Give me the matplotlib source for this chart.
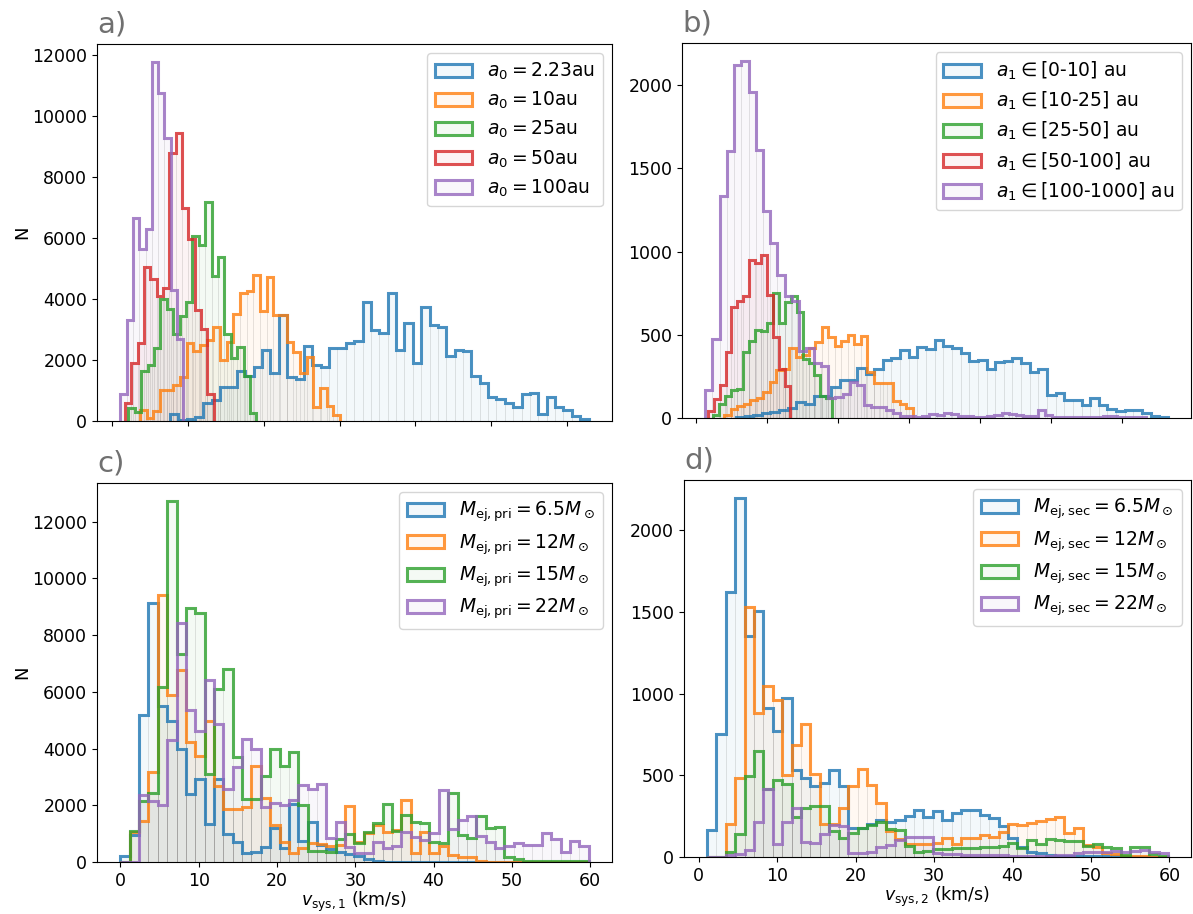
import numpy as np
import matplotlib
matplotlib.use("Agg")
import matplotlib.pyplot as plt
from matplotlib.patches import Patch
from matplotlib.colors import to_rgba

# ---- panel a: v_sys,1 by initial separation a0 ----
a_labels = [r"$a_0 = 2.23$au", r"$a_0 = 10$au", r"$a_0 = 25$au",
            r"$a_0 = 50$au", r"$a_0 = 100$au"]
a_ranges = [(7.59, 62.86), (3.64, 30.05), (2.10, 19.0), (1.67, 13.38), (1.05, 9.35)]
a_blue = [230, 33, 55, 142, 601, 689, 1104, 1104, 1650, 1476,
          1760, 2328, 1563, 3476, 1454, 1366, 2459, 1836, 1760, 2383,
          2383, 2547, 2634, 3913, 2984, 2897, 4208, 2328, 3224, 1891,
          3749, 3148, 3093, 2142, 2328, 2295, 1476, 1235, 776, 710,
          601, 470, 874, 907, 230, 776, 470, 361, 164, 55]
a_orange = [360, 87, 339, 1016, 1016, 1180, 1432, 2547, 2306, 2492,
            2656, 3093, 2000, 2601, 3508, 4186, 4273, 4787, 3618, 4733,
            3476, 3476, 2601, 2273, 1563, 2109, 470, 1071, 492, 197]
a_green = [420, 300, 1640, 1836, 2383, 4000, 3662, 2842, 3443, 3891,
           6066, 5771, 7170, 4765, 5367, 2853, 2055, 2437, 1490, 251]
a_red = [600, 1913, 2569, 5061, 4645, 4110, 4350, 8777, 9466, 6973,
         5957, 3640, 3006, 900]
a_purple = [880, 3312, 6667, 5629, 6285, 11782, 10777, 9290, 4295, 2700]

# ---- panel b: v_sys,2 by separation a1 ----
b_labels = [r"$a_1 \in$[0-10] au", r"$a_1 \in$[10-25] au", r"$a_1 \in$[25-50] au",
            r"$a_1 \in$[50-100] au", r"$a_1 \in$[100-1000] au"]
b_ranges = [(5.68, 66.5), (4.04, 30.54), (2.51, 19.25), (1.72, 13.35), (1.35, 63.45)]
b_blue = [6, 10, 16, 28, 38, 45, 62, 96, 85, 131,
          131, 184, 231, 231, 303, 267, 297, 348, 362, 408,
          368, 424, 412, 468, 432, 418, 388, 342, 348, 297,
          338, 342, 358, 332, 277, 293, 141, 153, 111, 107,
          76, 121, 76, 56, 42, 46, 46, 30, 12, 6]
b_orange = [16, 56, 70, 86, 107, 123, 157, 217, 287, 297,
            421, 368, 378, 420, 458, 547, 486, 433, 463, 498,
            446, 490, 274, 211, 211, 211, 100, 85, 62]
b_green = [20, 85, 130, 171, 175, 395, 460, 529, 520, 570,
           750, 570, 695, 732, 639, 355, 333, 257, 132, 122]
b_red = [40, 117, 197, 398, 669, 705, 732, 950, 929, 981,
         740, 486, 294, 191]
b_purple = [170, 472, 1333, 1604, 2121, 2147, 1962, 1608, 1242, 1051,
            860, 732, 705, 400, 418, 330, 310, 122, 127, 145,
            214, 200, 80, 66, 66, 50, 30, 10, 12, 8,
            10, 25, 18, 28, 22, 12, 10, 8, 8, 10,
            18, 30, 24, 16, 12, 14, 48, 20, 6, 6,
            5, 5, 6, 6, 8, 12, 10, 6, 5, 4, 3]

# ---- panel c: v_sys,1 by ejected mass of primary ----
c_labels = [r"$M_{\rm ej,pri} = 6.5M_\odot$", r"$M_{\rm ej,pri} = 12M_\odot$",
            r"$M_{\rm ej,pri} = 15M_\odot$", r"$M_{\rm ej,pri} = 22M_\odot$"]
c_range = (0.0, 59.8)
c_blue = [200, 960, 5190, 9141, 5503, 4972, 3968, 2400, 2941, 1330,
          2935, 975, 720, 331, 366, 543, 1193, 484, 2037, 738,
          1410, 602, 450, 360, 280, 210, 94, 35, 15, 15,
          15, 12, 12, 10, 10, 8, 8, 5, 0, 0,
          0, 0, 0, 0, 0, 0, 0, 0, 0, 0]
c_orange = [0, 1045, 1446, 3165, 9424, 5899, 6779, 4230, 3732, 4972,
            2670, 1854, 1866, 1950, 3401, 2256, 1311, 720, 320, 480,
            660, 630, 560, 600, 1960, 720, 1016, 1300, 1075, 1134,
            2197, 331, 1075, 331, 567, 248, 189, 189, 35, 10,
            0, 0, 0, 0, 0, 0, 0, 0, 0, 0]
c_green = [0, 1110, 2138, 2433, 6188, 12731, 7334, 8952, 8786, 3100,
           6117, 6802, 3700, 2238, 2208, 3047, 3980, 3378, 3874, 2000,
           390, 380, 370, 803, 985, 661, 1075, 1370, 2055, 1110,
           1665, 1394, 1370, 720, 661, 2433, 957, 839, 1630, 1193,
           1228, 165, 94, 24, 24, 24, 24, 24, 24, 24]
c_purple = [0, 0, 2374, 2138, 2019, 4293, 8432, 5374, 4606, 6413,
            4871, 2563, 3366, 4346, 3968, 1930, 2067, 2019, 2196, 2710,
            2575, 2764, 839, 1420, 520, 331, 331, 697, 508, 567,
            1075, 874, 780, 1039, 2527, 1169, 1464, 1606, 921, 697,
            484, 567, 661, 602, 602, 1039, 815, 366, 744, 567]

# ---- panel d: v_sys,2 by ejected mass of secondary ----
d_labels = [r"$M_{\rm ej,sec} = 6.5M_\odot$", r"$M_{\rm ej,sec} = 12M_\odot$",
            r"$M_{\rm ej,sec} = 15M_\odot$", r"$M_{\rm ej,sec} = 22M_\odot$"]
d_range = (1.07, 59.8)
d_blue = [165, 754, 1620, 2198, 1350, 1508, 911, 774, 975,
          531, 485, 435, 451, 531, 433, 180, 180, 200, 225,
          217, 227, 250, 286, 245, 280, 227, 268, 286, 290,
          259, 237, 190, 115, 63, 33, 22, 12, 8, 8,
          8, 6, 6, 4, 4, 2, 2, 1, 1, 0]
d_orange = [0, 0, 204, 484, 1533, 884, 1048, 962, 503,
            686, 814, 508, 200, 200, 298, 435, 537, 440, 328,
            160, 110, 78, 80, 80, 84, 114, 80, 118, 118,
            135, 125, 155, 202, 196, 210, 223, 233, 243, 149,
            176, 74, 63, 22, 18, 6, 4, 4, 2, 0]
d_green = [0, 0, 30, 138, 494, 646, 415, 470, 444,
           245, 298, 313, 313, 158, 114, 148, 180, 196, 215,
           172, 165, 70, 33, 39, 47, 49, 53, 53, 57,
           63, 63, 69, 84, 53, 104, 80, 108, 104, 100,
           100, 67, 80, 59, 53, 12, 63, 59, 18, 6]
d_purple = [0, 0, 10, 18, 40, 217, 418, 78, 212,
            300, 90, 84, 143, 196, 188, 25, 25, 30, 63,
            74, 105, 125, 125, 120, 22, 18, 16, 10, 10,
            10, 10, 10, 8, 8, 8, 8, 8, 12, 12,
            22, 33, 28, 28, 39, 33, 39, 43, 33, 27]

C = plt.rcParams['axes.prop_cycle'].by_key()['color']
cols5 = [C[0], C[1], C[2], C[3], C[4]]
cols4 = [C[0], C[1], C[2], C[4]]


def draw(ax, counts, lo, hi, color):
    counts = np.asarray(counts, dtype=float)
    edges = np.linspace(lo, hi, len(counts) + 1)
    mids = 0.5 * (edges[1:] + edges[:-1])
    # faint filled bars (thin interior bin lines) + solid step outline
    ax.hist(mids, bins=edges, weights=counts, histtype='bar',
            facecolor=to_rgba(color, 0.05), edgecolor=to_rgba('0.5', 0.12),
            linewidth=0.6)
    ax.hist(mids, bins=edges, weights=counts, histtype='step', color=color,
            linewidth=2.2, alpha=0.8)


def legend(ax, labels, colors):
    handles = [Patch(facecolor=to_rgba(c, 0.05), edgecolor=to_rgba(c, 0.8),
                     linewidth=2.2) for c in colors]
    ax.legend(handles, labels, loc='upper right', fontsize=13.5,
              labelspacing=0.42)


fig = plt.figure(figsize=(11.93, 9.14), dpi=100)
axa = fig.add_axes([0.0813, 0.5394, 0.4317, 0.4125])
axb = fig.add_axes([0.5717, 0.5427, 0.4267, 0.4103])
axc = fig.add_axes([0.0813, 0.0569, 0.4317, 0.4147])
axd = fig.add_axes([0.5733, 0.0624, 0.4250, 0.4125])

for vals, rng, col in zip([a_blue, a_orange, a_green, a_red, a_purple], a_ranges, cols5):
    draw(axa, vals, rng[0], rng[1], col)
legend(axa, a_labels, cols5)

for vals, rng, col in zip([b_blue, b_orange, b_green, b_red, b_purple], b_ranges, cols5):
    draw(axb, vals, rng[0], rng[1], col)
legend(axb, b_labels, cols5)

for vals, col in zip([c_blue, c_orange, c_green, c_purple], cols4):
    draw(axc, vals, c_range[0], c_range[1], col)
legend(axc, c_labels, cols4)

for vals, col in zip([d_blue, d_orange, d_green, d_purple], cols4):
    draw(axd, vals, d_range[0], d_range[1], col)
legend(axd, d_labels, cols4)

for ax, tag in zip([axa, axb, axc, axd], ['a)', 'b)', 'c)', 'd)']):
    ax.set_xticks(np.arange(0, 61, 10))
    ax.tick_params(labelsize=12.5)
    ax.text(0.0, 1.015, tag, transform=ax.transAxes, fontsize=21,
            color='#707070', ha='left', va='bottom')

axa.tick_params(labelbottom=False)
axb.tick_params(labelbottom=False)
axa.set_ylabel('N', fontsize=13, labelpad=1)
axc.set_ylabel('N', fontsize=13, labelpad=1)
axc.set_xlabel(r'$v_{\rm sys,1}$ (km/s)', fontsize=12.5, labelpad=0)
axd.set_xlabel(r'$v_{\rm sys,2}$ (km/s)', fontsize=12.5, labelpad=0)

fig.savefig('out.png', dpi=100)
